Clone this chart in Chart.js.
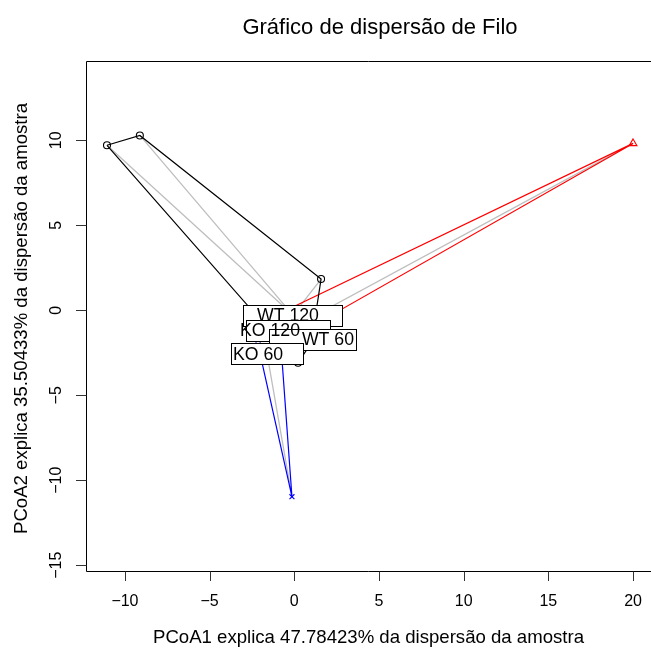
<!DOCTYPE html>
<html><head><meta charset="utf-8">
<script src="https://cdn.jsdelivr.net/npm/chart.js@4"></script>
<style>html,body{margin:0;padding:0;background:#fff;overflow:hidden}#wrap{width:651px;height:651px;position:relative}</style>
</head><body><div id="wrap"><canvas id="c"></canvas></div>
<script>
// ---- data ----
const groupNames = ["WT 120", "KO 120", "WT 60", "KO 60"];
const wt120X = [-11.06, -9.12, 1.58, 1.00, 0.22];
const wt120Y = [9.71, 10.29, 1.84, -1.92, -3.09];
const ko120X = [20.0, -1.55, 0.34];
const ko120Y = [9.82, -0.51, -1.33];
const wt60X = [2.58, 1.52, 0.63];
const wt60Y = [-2.10, -1.63, -1.27];
const ko60X = [-0.14, -2.14, -0.79];
const ko60Y = [-10.97, -2.04, -2.04];
const centerX = [-0.08, -0.37, 1.10, -1.61];
const centerY = [-0.28, -1.16, -1.69, -2.57];
const xTicks = [-10, -5, 0, 5, 10, 15, 20];
const yTicks = [-15, -10, -5, 0, 5, 10];
const titleText = "Gráfico de dispersão de Filo";
const xTitle = "PCoA1 explica 47.78423% da dispersão da amostra";
const yTitle = "PCoA2 explica 35.50433% da dispersão da amostra";

// ---- styles ----
const groupColors = ["#000000", "#ff0000", "#00cd00", "#0000ff"];
const groupMarkers = ["circle", "triangle", "cross", "crossRot"];
const markerRadius = [3.5, 4.5, 4, 3.5];
const labelBoxPad = [37, 24, 35, 22];     // extra box width around text (px)
const labelTextShift = [-5, -18, 15, -9]; // text offset inside box (px)
const FONT = '"Liberation Sans", Arial, sans-serif';

const gx = [wt120X, ko120X, wt60X, ko60X];
const gy = [wt120Y, ko120Y, wt60Y, ko60Y];

function pts(i) { return gx[i].map((x, k) => ({ x: x, y: gy[i][k] })); }
function hull(p) {
  const a = p.slice().sort((m, n) => m.x - n.x || m.y - n.y);
  if (a.length < 3) return a.concat([a[0]]);
  const cross = (o, u, v) => (u.x - o.x) * (v.y - o.y) - (u.y - o.y) * (v.x - o.x);
  const lo = [], up = [];
  for (const q of a) { while (lo.length >= 2 && cross(lo[lo.length - 2], lo[lo.length - 1], q) <= 0) lo.pop(); lo.push(q); }
  for (let i = a.length - 1; i >= 0; i--) { const q = a[i]; while (up.length >= 2 && cross(up[up.length - 2], up[up.length - 1], q) <= 0) up.pop(); up.push(q); }
  up.pop(); lo.pop();
  const h = lo.concat(up);
  return h.concat([h[0]]);
}

const datasets = [];
for (let i = 0; i < groupNames.length; i++) {
  const c = { x: centerX[i], y: centerY[i] };
  const sp = [];
  pts(i).forEach(p => { sp.push(c, p); });
  datasets.push({ label: groupNames[i] + " spider", data: sp, showLine: true, borderColor: "#bebebe", borderWidth: 1.3, pointRadius: 0, order: 3, tension: 0 });
}
for (let i = 0; i < groupNames.length; i++) {
  datasets.push({ label: groupNames[i] + " hull", data: hull(pts(i)), showLine: true, borderColor: groupColors[i], borderWidth: 1.2, pointRadius: 0, order: 2, tension: 0 });
}
for (let i = 0; i < groupNames.length; i++) {
  datasets.push({ label: groupNames[i], data: pts(i), showLine: false, pointStyle: groupMarkers[i], pointRadius: markerRadius[i], borderColor: groupColors[i], backgroundColor: "rgba(0,0,0,0)", pointBorderWidth: 1.1, order: 1 });
}

const decor = {
  id: "decor",
  afterDatasetsDraw(chart) {
    const ctx = chart.ctx, xs = chart.scales.x, ys = chart.scales.y;
    ctx.save();
    // frame (right side cut off)
    ctx.strokeStyle = "#000"; ctx.lineWidth = 1;
    ctx.beginPath();
    ctx.moveTo(651, 61.5); ctx.lineTo(86.5, 61.5); ctx.lineTo(86.5, 571.5); ctx.lineTo(651, 571.5);
    ctx.stroke();
    // ticks
    ctx.strokeStyle = "#333";
    ctx.fillStyle = "#000";
    ctx.font = "16px " + FONT;
    ctx.textAlign = "center"; ctx.textBaseline = "middle";
    const fmt = v => (v < 0 ? "\u2212" + Math.abs(v) : String(v));
    xTicks.forEach(v => {
      const px = Math.round(xs.getPixelForValue(v)) + 0.5;
      ctx.beginPath(); ctx.moveTo(px, 571.5); ctx.lineTo(px, 581); ctx.stroke();
      ctx.fillText(fmt(v), xs.getPixelForValue(v), 602);
    });
    yTicks.forEach(v => {
      const py = Math.round(ys.getPixelForValue(v)) + 0.5;
      ctx.beginPath(); ctx.moveTo(86.5, py); ctx.lineTo(76, py); ctx.stroke();
      ctx.save(); ctx.translate(57, ys.getPixelForValue(v)); ctx.rotate(-Math.PI / 2);
      ctx.fillText(fmt(v), 0, 0); ctx.restore();
    });
    // titles
    ctx.font = "22px " + FONT;
    ctx.fillText(titleText, 380, 28);
    ctx.font = "18.6px " + FONT;
    ctx.fillText(xTitle, 368.5, 638);
    ctx.save(); ctx.translate(22, 318.5); ctx.rotate(-Math.PI / 2); ctx.fillText(yTitle, 0, 0); ctx.restore();
    // group labels at centres
    ctx.font = "17.7px " + FONT;
    const boxes = groupNames.map((n, i) => {
      const w = ctx.measureText(n).width + labelBoxPad[i], h = 21;
      return { n, i, cx: xs.getPixelForValue(centerX[i]), cy: ys.getPixelForValue(centerY[i]), w, h };
    });
    boxes.forEach(b => {
      const l = Math.round(b.cx - b.w / 2) + 0.5, t = Math.round(b.cy - b.h / 2) + 0.5;
      ctx.fillStyle = "#fff"; ctx.fillRect(l, t, Math.round(b.w), b.h);
      ctx.strokeStyle = "#000"; ctx.lineWidth = 1; ctx.strokeRect(l, t, Math.round(b.w), b.h);
    });
    ctx.fillStyle = "#000";
    boxes.forEach(b => { ctx.fillText(b.n, b.cx + labelTextShift[b.i], b.cy + 1); });
    ctx.restore();
  }
};

new Chart(document.getElementById("c"), {
  type: "scatter",
  data: { datasets },
  options: {
    responsive: true, maintainAspectRatio: false, animation: false,
    layout: { autoPadding: false, padding: { left: 86.5, top: 61.5, right: 0, bottom: 79.5 } },
    plugins: { legend: { display: false }, tooltip: { enabled: false }, title: { display: false } },
    scales: {
      x: { type: "linear", display: false, min: -12.27, max: 21.06 },
      y: { type: "linear", display: false, min: -15.37, max: 14.64 }
    }
  },
  plugins: [decor]
});
</script></body></html>
